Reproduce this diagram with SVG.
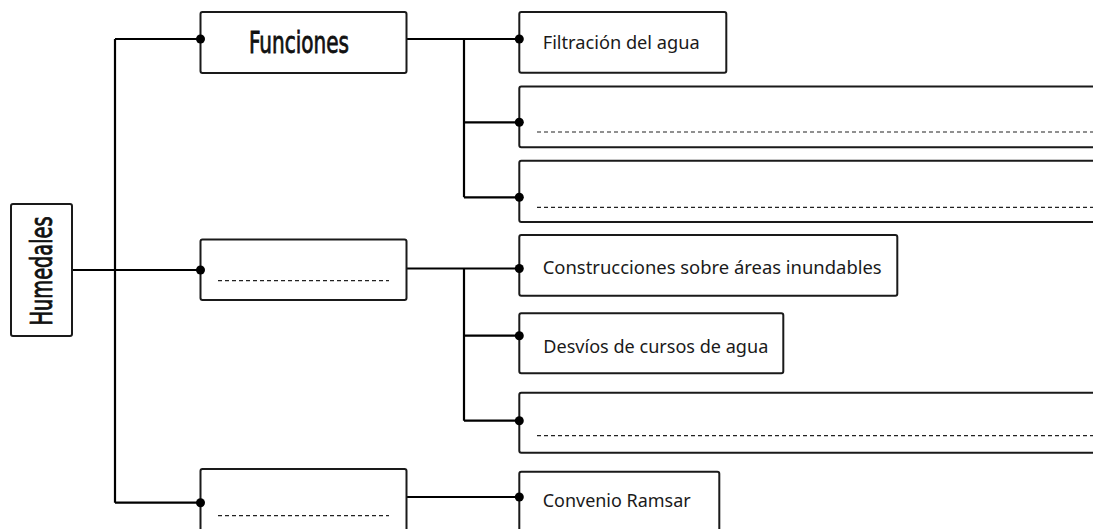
<svg xmlns="http://www.w3.org/2000/svg" width="1093" height="529" viewBox="0 0 1093 529">
<style>
.box{fill:#fff;stroke:#1a1a1a;stroke-width:2}
.ln{fill:none;stroke:#000;stroke-width:2.2}
.dash{fill:none;stroke:#222;stroke-width:1.2;stroke-dasharray:4 3}
.dot{fill:#000}
.big{font-family:"DejaVu Sans Condensed","DejaVu Sans",sans-serif;font-size:31px;fill:#111;stroke:#111;stroke-width:0.8}
.lbl{font-family:"Noto Sans","Open Sans",sans-serif;font-size:18px;fill:#1a1a1a}
</style>
<rect width="1093" height="529" fill="#fff"/>
<g id="connectors">
<path class="ln" d="M72,270 H200"/>
<path class="ln" d="M115,39 V502.7 M115,39 H200 M115,502.7 H200"/>
<path class="ln" d="M406.7,39 H519 M464,39 V197.3 M464,122.3 H519 M464,197.3 H519"/>
<path class="ln" d="M406.7,268.5 H519 M464,268.5 V420.7 M464,335.7 H519 M464,420.7 H519"/>
<path class="ln" d="M406.7,497 H519"/>
</g>
<g id="humedales">
<rect class="box" x="11" y="204" width="61" height="132" rx="2"/>
<text class="big" transform="translate(52,271) rotate(-90)" text-anchor="middle" textLength="109" lengthAdjust="spacingAndGlyphs">Humedales</text>
</g>
<g id="funciones">
<rect class="box" x="200.5" y="12" width="206" height="61" rx="2"/>
<text class="big" x="249" y="53.3" textLength="100" lengthAdjust="spacingAndGlyphs">Funciones</text>
<circle class="dot" cx="200.5" cy="39" r="4.5"/>
</g>
<g id="blank-mid">
<rect class="box" x="200.5" y="239.5" width="206" height="60.5" rx="2"/>
<line class="dash" x1="218" y1="280.7" x2="389" y2="280.7"/>
<circle class="dot" cx="200.5" cy="270" r="4.5"/>
</g>
<g id="blank-bottom">
<rect class="box" x="200.5" y="469" width="206" height="70" rx="2"/>
<line class="dash" x1="218" y1="515.7" x2="389" y2="515.7"/>
<circle class="dot" cx="200.5" cy="502.7" r="4.5"/>
</g>
<g id="filtracion">
<rect class="box" x="519.3" y="12" width="207" height="60.7" rx="2"/>
<text class="lbl" x="542.7" y="49" textLength="157" lengthAdjust="spacingAndGlyphs">Filtración del agua</text>
<circle class="dot" cx="519.3" cy="39" r="4.5"/>
</g>
<g id="funcion-2">
<rect class="box" x="519.3" y="86.5" width="590" height="60.7" rx="2"/>
<line class="dash" x1="537" y1="132" x2="1093" y2="132"/>
<circle class="dot" cx="519.3" cy="122.3" r="4.5"/>
</g>
<g id="funcion-3">
<rect class="box" x="519.3" y="160.7" width="590" height="61.3" rx="2"/>
<line class="dash" x1="537" y1="207.3" x2="1093" y2="207.3"/>
<circle class="dot" cx="519.3" cy="197.3" r="4.5"/>
</g>
<g id="construcciones">
<rect class="box" x="519.3" y="235" width="378" height="60.7" rx="2"/>
<text class="lbl" x="542.7" y="274" textLength="339" lengthAdjust="spacingAndGlyphs">Construcciones sobre áreas inundables</text>
<circle class="dot" cx="519.3" cy="268.5" r="4.5"/>
</g>
<g id="desvios">
<rect class="box" x="519.3" y="313.3" width="264" height="60" rx="2"/>
<text class="lbl" x="543.3" y="353.3" textLength="225" lengthAdjust="spacingAndGlyphs">Desvíos de cursos de agua</text>
<circle class="dot" cx="519.3" cy="335.7" r="4.5"/>
</g>
<g id="amenaza-3">
<rect class="box" x="519.3" y="392.7" width="590" height="60" rx="2"/>
<line class="dash" x1="537" y1="435.7" x2="1093" y2="435.7"/>
<circle class="dot" cx="519.3" cy="420.7" r="4.5"/>
</g>
<g id="ramsar">
<rect class="box" x="519.3" y="471.7" width="200" height="70" rx="2"/>
<text class="lbl" x="542.7" y="507.3" textLength="148" lengthAdjust="spacingAndGlyphs">Convenio Ramsar</text>
<circle class="dot" cx="519.3" cy="497" r="4.5"/>
</g>
</svg>
